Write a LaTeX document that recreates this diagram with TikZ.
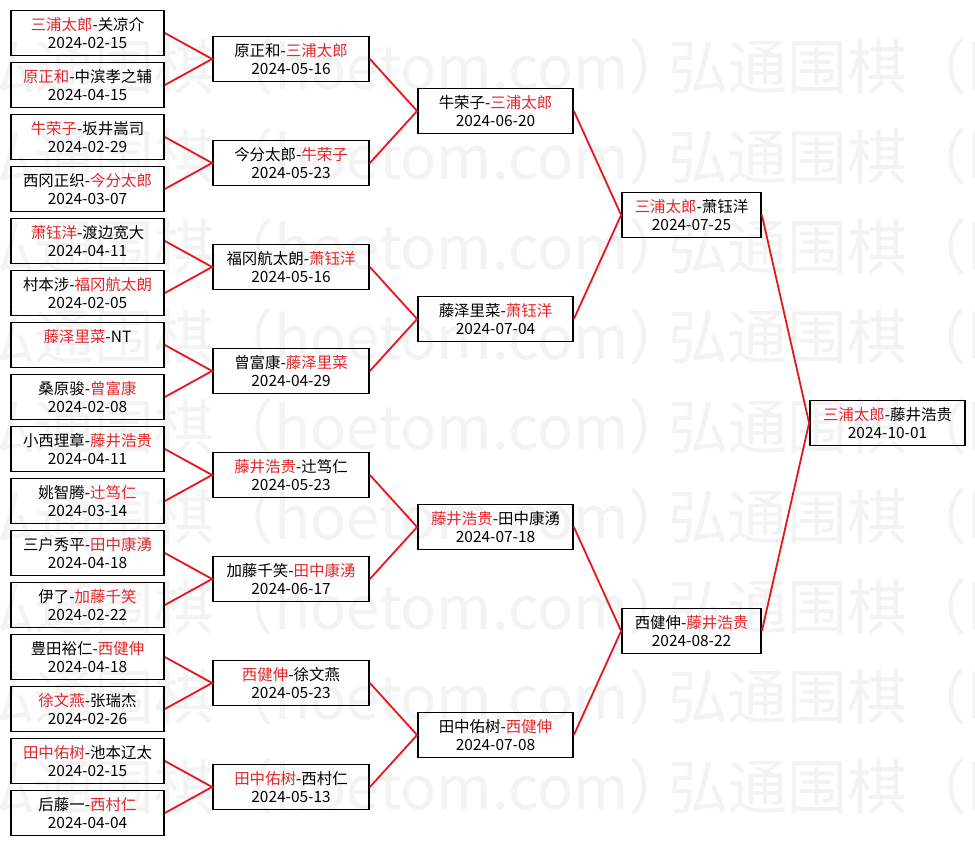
\documentclass[tikz,border=0pt]{standalone}
\usepackage{fontspec}
\newfontfamily\cjk{Noto Sans CJK SC}
\definecolor{winred}{HTML}{E3262B}
\definecolor{linkred}{HTML}{E6161C}
\definecolor{wmgray}{HTML}{F3F3F3}
\newcommand{\win}[1]{\textcolor{winred}{#1}}
\tikzset{
  matchbox/.style={draw=black, line width=1.8bp, inner sep=0pt, minimum height=45bp,
    align=center, font=\cjk\fontsize{15.5}{18}\selectfont},
  round1/.style={matchbox, minimum width=153bp},
  round2/.style={matchbox, minimum width=156bp},
  round3/.style={matchbox, minimum width=155bp},
  round4/.style={matchbox, minimum width=139bp},
  champ/.style={matchbox, minimum width=155bp},
  link/.style={draw=linkred, line width=1.8bp},
  wmark/.style={text=wmgray, font=\cjk\fontsize{60}{60}\selectfont, inner sep=0pt, anchor=west}
}

\begin{document}
\begin{tikzpicture}[x=1bp, y=-1bp]
  \fill[white] (0,0) rectangle (975,845);
  \useasboundingbox (0,0) rectangle (975,845);
  % watermark
  \begin{scope}
    \clip (0,0) rectangle (975,845);
    \foreach \wr in {0,...,8}{
      \foreach \wc in {0,1}{
        \node[wmark] (wm-\wr-\wc) at ({-25+693*\wc},{67+90*\wr}) {弘通围棋（hoetom.com）};
      }
    }
  \end{scope}
  % round 1
  \node[round1] (a0) at (87.5,33) {\win{三浦太郎}-关凉介\\2024-02-15};
  \node[round1] (a1) at (87.5,85) {\win{原正和}-中滨孝之辅\\2024-04-15};
  \node[round1] (a2) at (87.5,137) {\win{牛荣子}-坂井嵩司\\2024-02-29};
  \node[round1] (a3) at (87.5,189) {西冈正织-\win{今分太郎}\\2024-03-07};
  \node[round1] (a4) at (87.5,241) {\win{萧钰洋}-渡边宽大\\2024-04-11};
  \node[round1] (a5) at (87.5,293) {村本涉-\win{福冈航太朗}\\2024-02-05};
  \node[round1] (a6) at (87.5,345) {\win{藤泽里菜}-NT\\\mbox{}};
  \node[round1] (a7) at (87.5,397) {桑原骏-\win{曾富康}\\2024-02-08};
  \node[round1] (a8) at (87.5,449) {小西理章-\win{藤井浩贵}\\2024-04-11};
  \node[round1] (a9) at (87.5,501) {姚智腾-\win{辻笃仁}\\2024-03-14};
  \node[round1] (a10) at (87.5,553) {三户秀平-\win{田中康湧}\\2024-04-18};
  \node[round1] (a11) at (87.5,605) {伊了-\win{加藤千笑}\\2024-02-22};
  \node[round1] (a12) at (87.5,657) {豊田裕仁-\win{西健伸}\\2024-04-18};
  \node[round1] (a13) at (87.5,709) {\win{徐文燕}-张瑞杰\\2024-02-26};
  \node[round1] (a14) at (87.5,761) {\win{田中佑树}-池本辽太\\2024-02-15};
  \node[round1] (a15) at (87.5,813) {后藤一-\win{西村仁}\\2024-04-04};
  % round 2
  \node[round2] (b0) at (291,59) {原正和-\win{三浦太郎}\\2024-05-16};
  \node[round2] (b1) at (291,163) {今分太郎-\win{牛荣子}\\2024-05-23};
  \node[round2] (b2) at (291,267) {福冈航太朗-\win{萧钰洋}\\2024-05-16};
  \node[round2] (b3) at (291,371) {曾富康-\win{藤泽里菜}\\2024-04-29};
  \node[round2] (b4) at (291,475) {\win{藤井浩贵}-辻笃仁\\2024-05-23};
  \node[round2] (b5) at (291,579) {加藤千笑-\win{田中康湧}\\2024-06-17};
  \node[round2] (b6) at (291,683) {\win{西健伸}-徐文燕\\2024-05-23};
  \node[round2] (b7) at (291,787) {\win{田中佑树}-西村仁\\2024-05-13};
  % round 3
  \node[round3] (c0) at (495.5,111) {牛荣子-\win{三浦太郎}\\2024-06-20};
  \node[round3] (c1) at (495.5,319) {藤泽里菜-\win{萧钰洋}\\2024-07-04};
  \node[round3] (c2) at (495.5,527) {\win{藤井浩贵}-田中康湧\\2024-07-18};
  \node[round3] (c3) at (495.5,735) {田中佑树-\win{西健伸}\\2024-07-08};
  % round 4
  \node[round4] (d0) at (691.5,215) {\win{三浦太郎}-萧钰洋\\2024-07-25};
  \node[round4] (d1) at (691.5,631) {西健伸-\win{藤井浩贵}\\2024-08-22};
  % final
  \node[champ] (e0) at (887.5,423) {\win{三浦太郎}-藤井浩贵\\2024-10-01};
  % links
  \foreach \pa/\ch/\n in {a/b/7, b/c/3, c/d/1, d/e/0}{
    \foreach \i in {0,...,\n}{
      \pgfmathtruncatemacro\ua{2*\i}
      \pgfmathtruncatemacro\ub{2*\i+1}
      \draw[link] (\pa\ua.east) -- (\ch\i.west) -- (\pa\ub.east);
    }
  }
\end{tikzpicture}
\end{document}
